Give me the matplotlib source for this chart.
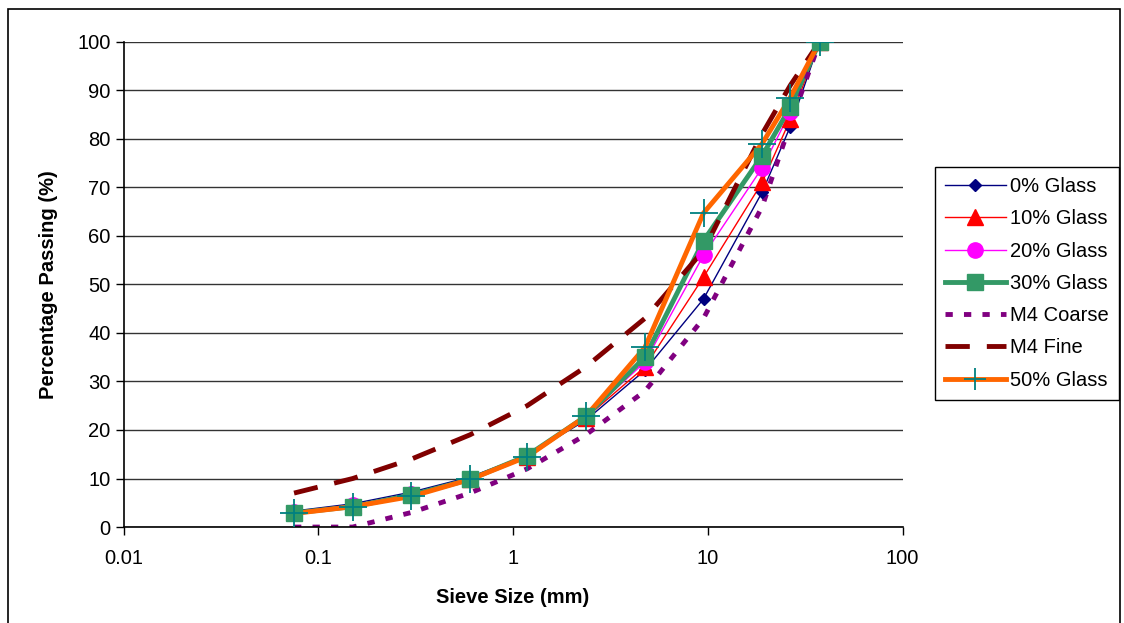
import matplotlib
matplotlib.use("Agg")
import matplotlib.pyplot as plt
from matplotlib.lines import Line2D
from matplotlib.patches import Rectangle

plt.rcParams["font.family"] = ["Liberation Sans", "DejaVu Sans"]

# Sieve sizes (mm) and percentage passing
sieve = [0.075, 0.15, 0.3, 0.6, 1.18, 2.36, 4.75, 9.5, 19, 26.5, 37.5]
glass_0 = [3.3, 4.8, 7.2, 10.3, 14.8, 22.0, 32.3, 47.0, 69.0, 82.5, 100]
glass_10 = [3.0, 4.5, 6.8, 10.0, 14.5, 22.5, 33.0, 51.5, 71.0, 84.0, 100]
glass_20 = [3.0, 4.5, 6.8, 10.0, 14.6, 22.8, 34.0, 56.0, 74.0, 85.5, 100]
glass_30 = [2.9, 4.2, 6.6, 9.8, 14.7, 22.8, 35.0, 59.0, 76.5, 86.5, 100]
m4_coarse = [0, 0, 3, 7, 12, 19, 28, 43, 66, 83, 100]
m4_fine = [7, 10, 14, 19, 25, 33, 43, 57, 81, 91, 100]
glass_50 = [2.8, 4.2, 6.3, 9.8, 14.5, 22.8, 37.0, 64.7, 79.0, 88.5, 100]

fig = plt.figure(figsize=(11.24, 6.23), dpi=100)
ax = fig.add_axes([0.110, 0.154, 0.693, 0.779])

# lines first, markers on top (as in the original spreadsheet chart)
ax.plot(sieve, glass_0, color="#000080", lw=1.0, zorder=2)
ax.plot(sieve, glass_10, color="#FF0000", lw=1.0, zorder=2)
ax.plot(sieve, glass_20, color="#FF00FF", lw=1.0, zorder=2)
ax.plot(sieve, glass_30, color="#339966", lw=3.5, zorder=2)
ax.plot(sieve, m4_coarse, color="#800080", lw=3.5, dashes=(1.5, 2.3),
        dash_capstyle="butt", zorder=2)
ax.plot(sieve, m4_fine, color="#800000", lw=3.5, dashes=(5, 3.5),
        dash_capstyle="butt", zorder=2)
ax.plot(sieve, glass_50, color="#FF6600", lw=3.5, zorder=2)

ax.plot(sieve, glass_0, ls="none", marker="D", ms=6, color="#000080", zorder=3)
ax.plot(sieve, glass_10, ls="none", marker="^", ms=12, color="#FF0000", zorder=3)
ax.plot(sieve, glass_20, ls="none", marker="o", ms=11, color="#FF00FF", zorder=3)
ax.plot(sieve, glass_30, ls="none", marker="s", ms=12, color="#339966", zorder=3)
ax.plot(sieve, glass_50, ls="none", marker="+", ms=20, mew=1.3,
        color="#008080", zorder=4)

ax.set_xscale("log")
ax.set_xlim(0.01, 100)
ax.set_ylim(0, 100)
ax.set_xticks([0.01, 0.1, 1, 10, 100])
ax.set_xticklabels(["0.01", "0.1", "1", "10", "100"])
ax.xaxis.set_minor_locator(matplotlib.ticker.NullLocator())
ax.set_yticks(range(0, 101, 10))
ax.tick_params(axis="both", labelsize=14.5, length=6, width=1, color="black")
ax.tick_params(axis="x", pad=10)

ax.yaxis.grid(True, color="#333333", lw=1)
ax.set_axisbelow(True)
for s in ["top", "right"]:
    ax.spines[s].set_visible(False)
for s in ["left", "bottom"]:
    ax.spines[s].set_linewidth(1.2)

ax.set_xlabel("Sieve Size (mm)", fontsize=14.5, fontweight="bold", labelpad=14)
ax.set_ylabel("Percentage Passing (%)", fontsize=14.5, fontweight="bold", labelpad=14)

handles = [
    Line2D([], [], color="#000080", lw=1.0, marker="D", ms=6),
    Line2D([], [], color="#FF0000", lw=1.0, marker="^", ms=12),
    Line2D([], [], color="#FF00FF", lw=1.0, marker="o", ms=11),
    Line2D([], [], color="#339966", lw=3.5, marker="s", ms=12),
    Line2D([], [], color="#800080", lw=3.5, dashes=(1.5, 2.3), dash_capstyle="butt"),
    Line2D([], [], color="#800000", lw=3.5, dashes=(5, 3.5), dash_capstyle="butt"),
    Line2D([], [], color="#FF6600", lw=3.5, marker="+", ms=16, mew=1.3,
           markeredgecolor="#008080"),
]
labels = ["0% Glass", "10% Glass", "20% Glass", "30% Glass",
          "M4 Coarse", "M4 Fine", "50% Glass"]
leg = fig.legend(handles, labels, loc="upper left", bbox_to_anchor=(0.832, 0.732),
                 fontsize=14.5, frameon=True, fancybox=False, framealpha=1,
                 edgecolor="black", handlelength=3.0, labelspacing=0.66,
                 borderpad=0.5, handletextpad=0.2, borderaxespad=0)
leg.get_frame().set_linewidth(1.0)

fig.patches.append(Rectangle((8 / 1124, -0.01), 1112 / 1124, 1 - 9 / 623 + 0.01,
                             transform=fig.transFigure, fill=False,
                             edgecolor="black", lw=1.2))

fig.savefig("out.png", dpi=100)
